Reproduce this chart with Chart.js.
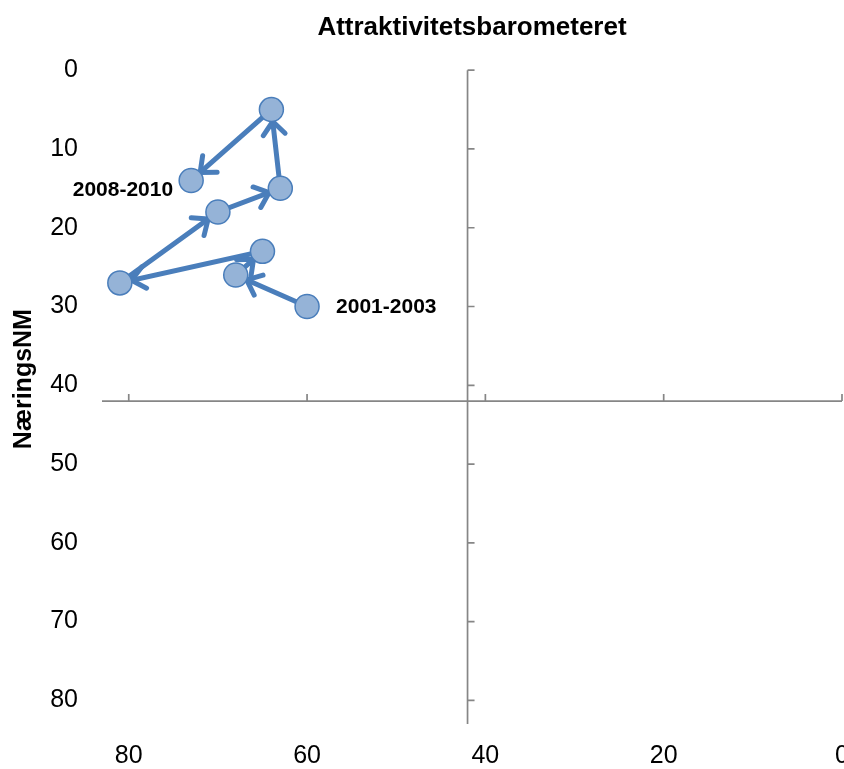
<!DOCTYPE html>
<html>
<head>
<meta charset="utf-8">
<script src="https://cdn.jsdelivr.net/npm/chart.js@4.4.1/dist/chart.umd.min.js"></script>
<style>
  html, body { margin: 0; padding: 0; background: #fff; overflow: hidden; }
  #wrap { width: 844px; height: 769px; }
</style>
</head>
<body>
<div id="wrap"><canvas id="chart-barometer"></canvas></div>
<script>
// perioder (3-årige) og verdier lest av figuren
const periods = ["2001-2003", "2002-2004", "2003-2005", "2004-2006", "2005-2007", "2006-2008", "2007-2009", "2008-2010"];
const attraktivitet = [60, 68, 65, 81, 70, 63, 64, 73];   // x-akse (reversert)
const naeringsNM = [30, 26, 23, 27, 18, 15, 5, 14];        // y-akse (reversert)
const xTicks = [0, 20, 40, 60, 80];
const yTicks = [0, 10, 20, 30, 40, 50, 60, 70, 80];
const axisMax = 83;
const crossAt = 42;

const blue = "rgba(74, 126, 187, 1)";
const lightBlue = "rgba(149, 179, 215, 1)";
const axisGrey = "#868686";
const font = "'Liberation Sans', Arial, sans-serif";

const points = periods.map((p, i) => ({ x: attraktivitet[i], y: naeringsNM[i] }));

// akser som krysser hverandre, piler paa linjene, etiketter
const crossAxes = {
    id: "crossAxes",
    beforeDatasetsDraw(chart) {
        const { ctx, scales: { x, y } } = chart;
        const x0 = x.getPixelForValue(crossAt);
        const y0 = y.getPixelForValue(crossAt);
        ctx.save();
        ctx.strokeStyle = axisGrey;
        ctx.lineWidth = 1.7;
        ctx.beginPath();
        ctx.moveTo(x0, y.top);
        ctx.lineTo(x0, y.bottom);
        ctx.moveTo(x.left, y0);
        ctx.lineTo(x.right, y0);
        y.ticks.forEach(t => {
            const p = y.getPixelForValue(t.value);
            ctx.moveTo(x0, p);
            ctx.lineTo(x0 + 7, p);
        });
        x.ticks.forEach(t => {
            const p = x.getPixelForValue(t.value);
            ctx.moveTo(p, y0);
            ctx.lineTo(p, y0 - 7);
        });
        ctx.stroke();

        // pilspisser
        const pts = chart.getDatasetMeta(0).data;
        ctx.strokeStyle = blue;
        ctx.lineWidth = 5;
        ctx.lineCap = "round";
        ctx.lineJoin = "round";
        for (let i = 1; i < pts.length; i++) {
            const a = pts[i - 1], b = pts[i];
            const ang = Math.atan2(b.y - a.y, b.x - a.x);
            const tx = b.x - 12 * Math.cos(ang);
            const ty = b.y - 12 * Math.sin(ang);
            ctx.beginPath();
            ctx.moveTo(tx - 17 * Math.cos(ang - 0.7), ty - 17 * Math.sin(ang - 0.7));
            ctx.lineTo(tx, ty);
            ctx.lineTo(tx - 17 * Math.cos(ang + 0.7), ty - 17 * Math.sin(ang + 0.7));
            ctx.stroke();
        }
        ctx.restore();
    },
    afterDatasetsDraw(chart) {
        const { ctx, chartArea } = chart;
        const pts = chart.getDatasetMeta(0).data;
        const first = pts[0], last = pts[pts.length - 1];
        ctx.save();
        ctx.fillStyle = "#000";
        ctx.font = "bold 21px " + font;
        ctx.textBaseline = "middle";
        ctx.textAlign = "left";
        ctx.fillText(periods[0], first.x + 29, first.y + 1);
        ctx.textAlign = "right";
        ctx.fillText(periods[periods.length - 1], last.x - 18, last.y + 10);

        // y-aksetittel
        ctx.font = "bold 25px " + font;
        ctx.textAlign = "center";
        ctx.translate(24, chartArea.top + 309);
        ctx.rotate(-Math.PI / 2);
        ctx.fillText("NæringsNM", 0, 0);
        ctx.restore();
    }
};

const ctx = document.getElementById("chart-barometer");

new Chart(ctx, {
    type: "scatter",
    data: {
        datasets: [{
            label: "Attraktivitetsbarometeret",
            data: points,
            showLine: true,
            borderColor: blue,
            borderWidth: 5,
            pointRadius: 12,
            pointBackgroundColor: lightBlue,
            pointBorderColor: blue,
            pointBorderWidth: 1.5,
            tension: 0
        }]
    },
    options: {
        responsive: true,
        maintainAspectRatio: false,
        animation: false,
        layout: { autoPadding: false, padding: { left: 0, right: 2, top: 0, bottom: 0 } },
        plugins: {
            legend: { display: false },
            tooltip: { enabled: false },
            title: {
                display: true,
                fullSize: false,
                text: "Attraktivitetsbarometeret",
                color: "#000",
                font: { family: font, size: 26, weight: "bold" },
                padding: { top: 12, bottom: 27 }
            }
        },
        scales: {
            x: {
                type: "linear",
                reverse: true,
                min: 0,
                max: axisMax,
                afterBuildTicks: axis => { axis.ticks = xTicks.map(v => ({ value: v })); },
                afterFit: axis => { axis.height = 45; axis.paddingLeft = 0; axis.paddingRight = 0; },
                grid: { display: false, drawTicks: false },
                border: { display: false },
                ticks: {
                    color: "#000",
                    padding: 17,
                    maxRotation: 0,
                    font: { family: font, size: 25 }
                }
            },
            y: {
                type: "linear",
                reverse: true,
                min: 0,
                max: axisMax,
                afterBuildTicks: axis => { axis.ticks = yTicks.map(v => ({ value: v })); },
                afterFit: axis => { axis.width = 102; axis.paddingTop = 0; axis.paddingBottom = 0; },
                grid: { display: false, drawTicks: false },
                border: { display: false },
                ticks: {
                    color: "#000",
                    padding: 24,
                    font: { family: font, size: 25 }
                }
            }
        }
    },
    plugins: [crossAxes]
});
</script>
</body>
</html>
